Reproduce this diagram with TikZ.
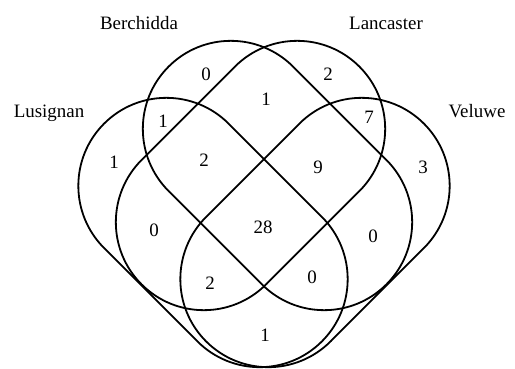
\documentclass[tikz,border=0pt]{standalone}
\usepackage{fontspec}
\setmainfont{Liberation Serif}
\usepackage{tikz}

% one set of the diagram: a long loop, round at both ends
\newcommand{\vennloop}[3]{%
  \begin{scope}[shift={(#1,#2)}, rotate=#3]
    \draw[setline] (-66,-88) -- (66,-88) arc[start angle=-90, end angle=90, radius=88bp]
      -- (-66,88) arc[start angle=90, end angle=270, radius=88bp] -- cycle;
  \end{scope}}

\begin{document}
\begin{tikzpicture}[x=1bp, y=1bp,
    setline/.style={line width=1.8bp, black},
    setname/.style={anchor=base, inner sep=0pt, font=\fontsize{19}{20}\selectfont},
    count/.style={inner sep=0pt, font=\fontsize{19}{20}\selectfont}]
        \useasboundingbox (0,0) rectangle (515,368);

        \vennloop{213}{135.5}{-45}   % Lusignan
        \vennloop{277.5}{192.5}{-45} % Berchidda
        \vennloop{250.5}{192.5}{45}  % Lancaster
        \vennloop{315}{135.5}{45}    % Veluwe

        \node[setname] (lusignan)  at (49,251)    {Lusignan};
        \node[setname] (berchidda) at (139,338.5) {Berchidda};
        \node[setname] (lancaster) at (386,338.5) {Lancaster};
        \node[setname] (veluwe)    at (477,251)   {Veluwe};

        \node[count] (rB)    at (206,294) {0};
        \node[count] (rC)    at (328,294) {2};
        \node[count] (rBC)   at (266,269) {1};
        \node[count] (rLB)   at (163,247) {1};
        \node[count] (rCV)   at (369,251) {7};
        \node[count] (rL)    at (114,206) {1};
        \node[count] (rLBC)  at (204,208) {2};
        \node[count] (rBCV)  at (318,201) {9};
        \node[count] (rV)    at (423,201) {3};
        \node[count] (rLC)   at (154,138) {0};
        \node[count] (rLBCV) at (263,141) {28};
        \node[count] (rBV)   at (373,132) {0};
        \node[count] (rLCV)  at (210,85)  {2};
        \node[count] (rLBV)  at (312,91)  {0};
        \node[count] (rLV)   at (265,33)  {1};
\end{tikzpicture}
\end{document}
